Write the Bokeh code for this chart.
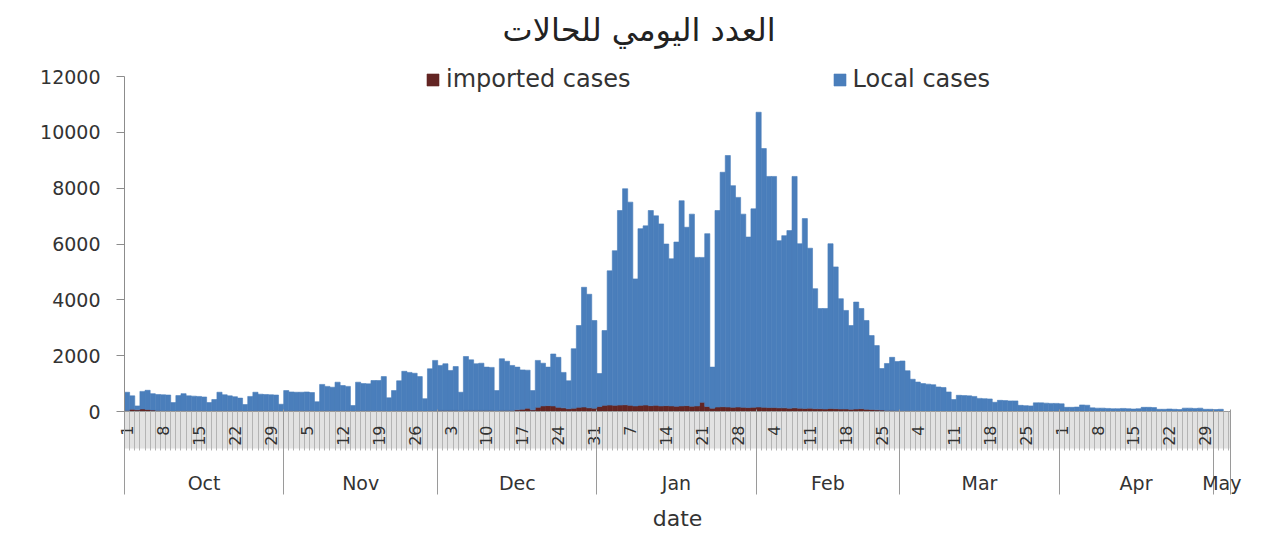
import math
import pandas as pd
from bokeh.plotting import figure
from bokeh.models import (ColumnDataSource, Range1d, LinearAxis, FixedTicker,
                          Legend, LegendItem)
from bokeh.embed import file_html
from bokeh.resources import INLINE

# ---------------- data ----------------
start_date = "2021-10-01"

local_oct = [650, 480, 140, 630, 690, 590, 570, 570, 560, 300, 540, 610, 530, 520, 510, 490,
             300, 400, 660, 570, 530, 500, 450, 230, 510, 660, 590, 580, 570, 560, 240]
imported_oct = [40, 80, 60, 90, 70, 50, 40, 30, 30, 20, 30, 30, 30, 30, 30, 30,
                20, 30, 30, 30, 30, 30, 30, 20, 30, 30, 30, 30, 30, 30, 20]

local_nov = [720, 670, 660, 660, 670, 650, 330, 940, 870, 840, 1020, 900, 870, 200, 1020,
             970, 960, 1080, 1080, 1220, 470, 720, 1070, 1410, 1370, 1340, 1220, 440, 1500, 1800]
imported_nov = [30, 30, 30, 30, 30, 30, 20, 30, 30, 30, 30, 30, 30, 15, 30,
                30, 30, 30, 30, 30, 20, 30, 30, 30, 30, 30, 30, 20, 30, 30]

local_dec = [1610, 1670, 1430, 1570, 660, 1930, 1810, 1670, 1690, 1550, 1540, 720, 1850, 1760,
             1610, 1530, 1410, 1360, 690, 1680, 1530, 1380, 1860, 1790, 1270, 1000, 2130, 2930,
             4290, 4070, 3140]
imported_dec = [40, 40, 40, 40, 30, 40, 40, 40, 40, 40, 40, 30, 40, 40,
                40, 60, 80, 120, 60, 150, 200, 210, 200, 150, 130, 100, 120, 150,
                160, 130, 120]

local_jan = [1180, 2680, 4810, 5540, 6970, 7740, 7280, 4550, 6330, 6420, 6990, 6790, 6520,
             5790, 5270, 5880, 7350, 6390, 6880, 5320, 5190, 6190, 1470, 7040, 8400, 9010,
             7940, 7510, 6920, 6110, 7110]
imported_jan = [180, 220, 230, 220, 230, 240, 220, 200, 220, 230, 210, 220, 200,
                210, 200, 190, 200, 210, 190, 200, 330, 180, 120, 160, 170, 160,
                150, 160, 150, 140, 150]

local_feb = [10560, 9270, 8280, 8280, 5990, 6170, 6360, 8290, 5890, 6800, 5730, 4300, 3590,
             3600, 5900, 5080, 3950, 3530, 3000, 3830, 3590, 3180, 2650, 2300, 1490, 1680,
             1900, 1760]
imported_feb = [160, 150, 140, 140, 130, 130, 120, 130, 120, 110, 120, 100, 100,
                90, 110, 100, 90, 90, 80, 90, 100, 80, 70, 60, 50, 40,
                40, 30]

local_mar = [1780, 1430, 1130, 1030, 980, 960, 940, 860, 840, 680, 410, 560, 550, 540, 520,
             450, 440, 430, 310, 380, 370, 360, 360, 200, 190, 180, 290, 290, 280, 270, 270]
imported_mar = [30, 30, 25, 25, 20, 20, 20, 20, 20, 20, 20, 20, 20, 20, 20,
                20, 20, 20, 20, 20, 20, 20, 20, 20, 20, 20, 20, 20, 20, 20, 20]

local_apr = [265, 140, 140, 150, 225, 215, 120, 110, 110, 100, 90, 90, 100, 90, 80,
             90, 140, 140, 130, 70, 70, 80, 70, 60, 110, 110, 100, 110, 70, 70]
imported_apr = [10, 10, 10, 10, 10, 10, 10, 10, 10, 10, 10, 10, 10, 10, 10,
                10, 10, 10, 10, 10, 10, 10, 10, 10, 10, 10, 10, 10, 10, 10]

local_may = [60, 70]
imported_may = [10, 10]

day_tick_labels = ["1", "8", "15", "22", "29", "5", "12", "19", "26", "3", "10", "17", "24",
                   "31", "7", "14", "21", "28", "4", "11", "18", "25", "4", "11", "18", "25",
                   "1", "8", "15", "22", "29"]
month_labels = ["Oct", "Nov", "Dec", "Jan", "Feb", "Mar", "Apr", "May"]
y_ticks = [0, 2000, 4000, 6000, 8000, 10000, 12000]

title_text = "العدد اليومي للحالات"
series_names = ["imported cases", "Local cases"]
colors = ["#632523", "#4A7EBB"]

# ---------------- assemble ----------------
local = local_oct + local_nov + local_dec + local_jan + local_feb + local_mar + local_apr + local_may
imported = (imported_oct + imported_nov + imported_dec + imported_jan + imported_feb
            + imported_mar + imported_apr + imported_may)
dates = pd.date_range(start_date, periods=len(local), freq="D")
day = list(range(len(local)))

src = ColumnDataSource(dict(day=day, imported=imported, local=local))

x_end = len(local) + 0.9
y_max = y_ticks[-1]
y_top = y_max * 355 / 335   # a little headroom above the 12000 tick for the legend row

p = figure(width=1259, height=535, output_backend="svg", toolbar_location=None,
           x_range=Range1d(-0.5, x_end), y_range=Range1d(0, y_top),
           x_axis_type=None, min_border_left=124, min_border_right=29,
           min_border_top=56, min_border_bottom=124)
p.outline_line_color = None
p.grid.visible = False
p.background_fill_color = "white"

renderers = p.vbar_stack(["imported", "local"], x="day", width=1.0, source=src,
                         color=colors, line_width=0.6)

# title
p.title.text = title_text
p.title.align = "left"
p.title.offset = 378
p.title.text_font = "DejaVu Sans"
p.title.text_font_size = "32px"
p.title.text_font_style = "normal"
p.title.text_color = "#222222"
p.title.standoff = 16

# y axis
ya = p.yaxis[0]
ya.ticker = FixedTicker(ticks=y_ticks)
ya.bounds = (0, y_max)
ya.axis_line_color = "#8c8c8c"
ya.major_tick_line_color = "#8c8c8c"
ya.major_tick_out = 8
ya.major_tick_in = 0
ya.minor_tick_out = 0
ya.minor_tick_in = 0
ya.major_label_standoff = 16
ya.major_label_text_font = "DejaVu Sans"
ya.major_label_text_font_size = "19px"
ya.major_label_text_color = "#333333"

# day axis (grey striped band with rotated day numbers)
day_pos = [7 * i for i in range(len(day_tick_labels))]
day_bounds = [i - 0.5 for i in range(len(local) + 2)]
axA = LinearAxis(ticker=FixedTicker(ticks=day_pos, minor_ticks=day_bounds))
axA.major_label_overrides = {pos: lab for pos, lab in zip(day_pos, day_tick_labels)}
axA.axis_line_color = "#9a9a9a"
axA.major_tick_in = 0
axA.major_tick_out = 0
axA.minor_tick_in = 0
axA.minor_tick_out = 39
axA.minor_tick_line_color = "#b4b4b4"
axA.minor_tick_line_width = 1
axA.major_label_orientation = math.pi / 2
axA.major_label_standoff = -25
axA.major_label_text_font = "DejaVu Sans"
axA.major_label_text_font_size = "16px"
axA.major_label_text_color = "#333333"
if "background_fill_color" in axA.properties():
    axA.background_fill_color = "#e2e2e2"
p.add_layout(axA, "below")

# month axis (labels + separators)
month_starts = [i for i, d in enumerate(dates) if d.day == 1]
month_bounds = [i - 0.5 for i in month_starts] + [x_end]
month_mid = [(a + b) / 2 for a, b in zip(month_bounds[:-1], month_bounds[1:])]
axB = LinearAxis(ticker=FixedTicker(ticks=month_mid, minor_ticks=month_bounds))
axB.major_label_overrides = {m: lab for m, lab in zip(month_mid, month_labels)}
axB.axis_line_color = None
axB.major_tick_in = 0
axB.major_tick_out = 0
axB.minor_tick_in = 39
axB.minor_tick_out = 46
axB.minor_tick_line_color = "#9a9a9a"
axB.major_label_standoff = -23
axB.major_label_text_font = "DejaVu Sans"
axB.major_label_text_font_size = "19px"
axB.major_label_text_color = "#333333"
axB.axis_label = "date"
axB.axis_label_text_font = "DejaVu Sans"
axB.axis_label_text_font_size = "22px"
axB.axis_label_text_font_style = "normal"
axB.axis_label_text_color = "#333333"
axB.axis_label_standoff = 9
p.add_layout(axB, "below")

# legend
legend = Legend(items=[LegendItem(label=series_names[0], renderers=[renderers[0]]),
                       LegendItem(label=series_names[1], renderers=[renderers[1]])],
                orientation="horizontal", location=(301, 318), spacing=201,
                padding=0, margin=0, border_line_color=None, background_fill_alpha=0,
                glyph_width=15, glyph_height=15, label_standoff=6,
                label_text_font="DejaVu Sans", label_text_font_size="24px",
                label_text_color="#333333")
p.add_layout(legend, "center")

open("out.html", "w").write(file_html(p, INLINE))
